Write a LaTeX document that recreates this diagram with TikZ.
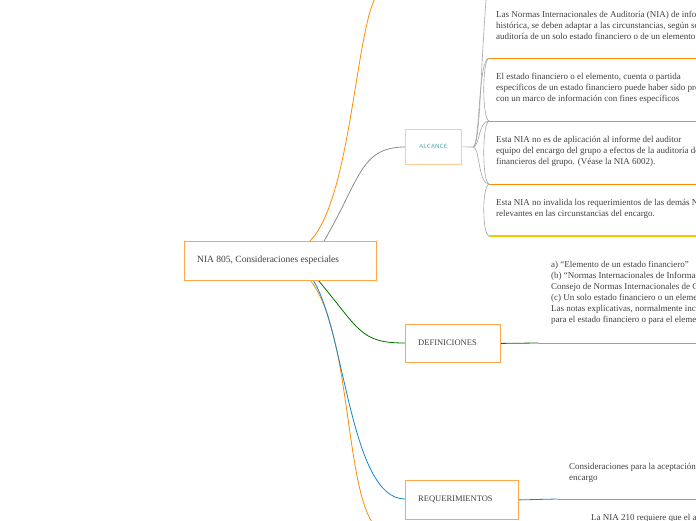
\documentclass[tikz,border=0pt]{standalone}
\usepackage{fontspec}
\setmainfont{Liberation Serif}
\begin{document}
\begin{tikzpicture}[x=1pt,y=-1pt,
  box/.style={draw=orange!70,line width=0.8pt,fill=white,inner sep=0pt,anchor=north west},
  txt/.style={anchor=north west,align=left,font=\fontsize{9}{11}\selectfont,text=black!75,inner sep=0pt},
  ol/.style={draw=orange!90!yellow,line width=0.8pt},
  gl/.style={draw=black!35,line width=0.6pt}]
\useasboundingbox (0,0) rectangle (696,520);
\clip (0,0) rectangle (696,520);
% connectors
\coordinate (top) at (375,-2);
\coordinate (bot) at (372,522);
\draw[ol] (310,241) .. controls (350,200) and (355,40) .. (top);
\draw[ol] (310,280) .. controls (350,330) and (345,480) .. (bot);
\draw[black!45,line width=0.8pt] (324,241) .. controls (360,180) and (360,147) .. (405,147);
\draw[green!45!black,line width=0.8pt] (318,280) .. controls (360,330) and (360,343) .. (405,343);
\draw[cyan!70!blue,line width=0.8pt] (313,280) .. controls (345,330) and (350,499) .. (405,499);
% root
\node[box,minimum width=192pt,minimum height=39pt] (root) at (184,241) {};
\node[txt,anchor=west,font=\fontsize{9.5}{12}\selectfont] at (197,260.5) {NIA 805, Consideraciones especiales};
% ALCANCE
\node[box,draw=orange!40,minimum width=56pt,minimum height=35pt] (alc) at (405,129) {};
\node[text=teal!70,font=\sffamily\fontsize{6}{7}\selectfont] at (alc.center) {ALCANCE};
\coordinate (fan) at (473,147);
\draw[gl] (alc.east) -- (fan);
% items
\foreach \a/\b in {58/121,121/184,184/236}{
  \draw[gl] (fan) .. controls (480,147) and (478,\a) .. (489,\a);
  \draw[gl] (489,\a) .. controls (482,\a+2) and (482,\b-2) .. (489,\b);
}
\draw[gl] (fan) .. controls (480,147) and (480,80) .. (486,0);
\draw[ol] (489,58) -- (700,58);
\draw[ol] (489,121) -- (700,121);
\draw[ol] (489,184) -- (700,184);
\draw[draw=orange!45!yellow,line width=1.2pt] (489,236) -- (700,236);
\node[txt] (t1) at (496,11) {Las Normas Internacionales de Auditoría (NIA) de información financiera\\histórica, se deben adaptar a las circunstancias, según sea necesario, en la\\auditoría de un solo estado financiero o de un elemento};
\node[txt] (t2) at (496,73) {El estado financiero o el elemento, cuenta o partida\\específicos de un estado financiero puede haber sido preparado de conformidad\\con un marco de información con fines específicos};
\node[txt] (t3) at (496,136) {Esta NIA no es de aplicación al informe del auditor\\equipo del encargo del grupo a efectos de la auditoría de los estados\\financieros del grupo. (Véase la NIA 6002).};
\node[txt] (t4) at (496,199) {Esta NIA no invalida los requerimientos de las demás NIA\\relevantes en las circunstancias del encargo.};
% DEFINICIONES
\node[box,minimum width=95pt,minimum height=38pt] (def) at (405,324) {};
\node[txt,anchor=west,font=\fontsize{8.5}{10}\selectfont] at (418,343) {DEFINICIONES};
\draw[green!45!black,line width=0.8pt] (def.east) -- (538,343);
\draw[ol] (538,343) -- (700,343);
\node[txt] (t5) at (551,261) {a) “Elemento de un estado financiero”\\(b) “Normas Internacionales de Información Financiera”\\Consejo de Normas Internacionales de Contabilidad\\(c) Un solo estado financiero o un elemento\\Las notas explicativas, normalmente incluyen\\para el estado financiero o para el elemento};
% REQUERIMIENTOS
\node[box,minimum width=113pt,minimum height=39pt] (req) at (405,480) {};
\node[txt,anchor=west,font=\fontsize{8.5}{10}\selectfont] at (418,499.5) {REQUERIMIENTOS};
\draw[cyan!70!blue,line width=0.8pt] (req.east) -- (557,499);
\draw[ol] (557,499) -- (700,499);
\node[txt] (t6) at (569,463) {Consideraciones para la aceptación del\\encargo};
\node[txt] (t7) at (591,514) {La NIA 210 requiere que el auditor};
\end{tikzpicture}
\end{document}
